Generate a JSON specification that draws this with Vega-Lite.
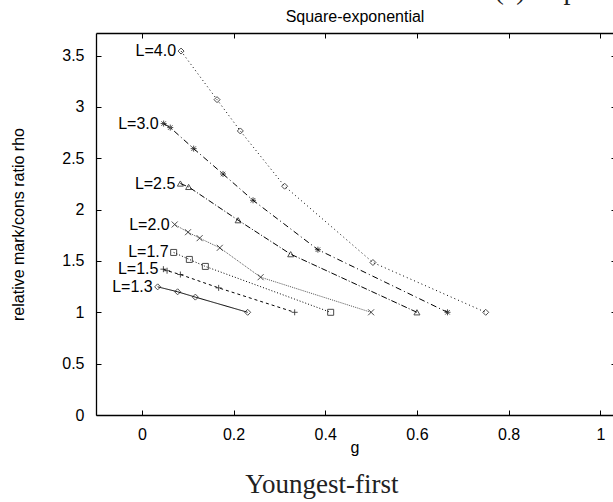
{
  "$schema": "https://vega.github.io/schema/vega-lite/v6.json",
  "width": 517,
  "height": 382,
  "autosize": {"type": "none"},
  "padding": {"left": 96, "top": 33, "right": 0, "bottom": 87},
  "background": "white",
  "config": {
    "view": {"stroke": null},
    "font": "Liberation Sans",
    "axis": {
      "grid": false,
      "domainColor": "black",
      "tickColor": "black",
      "labelColor": "black",
      "titleColor": "black",
      "labelFont": "Liberation Sans",
      "titleFont": "Liberation Sans",
      "labelFontSize": 16,
      "titleFontSize": 16,
      "titleFontWeight": "normal",
      "tickSize": -5,
      "domainWidth": 1.3,
      "tickWidth": 1
    }
  },
  "datasets": {
    "series": [
      {"L": "L=1.3", "g": 0.0345, "rho": 1.248},
      {"L": "L=1.3", "g": 0.078, "rho": 1.2},
      {"L": "L=1.3", "g": 0.1167, "rho": 1.148},
      {"L": "L=1.3", "g": 0.2308, "rho": 1.0},
      {"L": "L=1.5", "g": 0.047, "rho": 1.42},
      {"L": "L=1.5", "g": 0.055, "rho": 1.405},
      {"L": "L=1.5", "g": 0.084, "rho": 1.368},
      {"L": "L=1.5", "g": 0.1675, "rho": 1.238},
      {"L": "L=1.5", "g": 0.3333, "rho": 1.0},
      {"L": "L=1.7", "g": 0.0694, "rho": 1.583},
      {"L": "L=1.7", "g": 0.1036, "rho": 1.515},
      {"L": "L=1.7", "g": 0.1385, "rho": 1.447},
      {"L": "L=1.7", "g": 0.4118, "rho": 1.0},
      {"L": "L=2.0", "g": 0.0716, "rho": 1.855},
      {"L": "L=2.0", "g": 0.1007, "rho": 1.78},
      {"L": "L=2.0", "g": 0.126, "rho": 1.722},
      {"L": "L=2.0", "g": 0.17, "rho": 1.628},
      {"L": "L=2.0", "g": 0.259, "rho": 1.342},
      {"L": "L=2.0", "g": 0.5, "rho": 1.0},
      {"L": "L=2.5", "g": 0.084, "rho": 2.254},
      {"L": "L=2.5", "g": 0.102, "rho": 2.221},
      {"L": "L=2.5", "g": 0.21, "rho": 1.897},
      {"L": "L=2.5", "g": 0.3246, "rho": 1.566},
      {"L": "L=2.5", "g": 0.6, "rho": 1.0},
      {"L": "L=3.0", "g": 0.0475, "rho": 2.838},
      {"L": "L=3.0", "g": 0.062, "rho": 2.799},
      {"L": "L=3.0", "g": 0.113, "rho": 2.594},
      {"L": "L=3.0", "g": 0.177, "rho": 2.347},
      {"L": "L=3.0", "g": 0.2425, "rho": 2.091},
      {"L": "L=3.0", "g": 0.384, "rho": 1.61},
      {"L": "L=3.0", "g": 0.6667, "rho": 1.0},
      {"L": "L=4.0", "g": 0.0855, "rho": 3.544},
      {"L": "L=4.0", "g": 0.164, "rho": 3.071},
      {"L": "L=4.0", "g": 0.2148, "rho": 2.766},
      {"L": "L=4.0", "g": 0.3114, "rho": 2.228},
      {"L": "L=4.0", "g": 0.504, "rho": 1.485},
      {"L": "L=4.0", "g": 0.75, "rho": 1.0}
    ]
  },
  "layer": [
    {
      "data": {"name": "series"},
      "mark": {"type": "line", "strokeWidth": 1, "clip": true},
      "encoding": {
        "x": {
          "field": "g", "type": "quantitative",
          "scale": {"domain": [-0.1, 1.0276], "nice": false, "zero": false},
          "axis": {"orient": "bottom", "title": "g", "values": [0, 0.2, 0.4, 0.6, 0.8, 1], "format": "~g", "labelPadding": 16, "titlePadding": -3}
        },
        "y": {
          "field": "rho", "type": "quantitative",
          "scale": {"domain": [0, 3.72], "nice": false, "zero": false},
          "axis": {"orient": "left", "title": "relative mark/cons ratio rho", "values": [0, 0.5, 1, 1.5, 2, 2.5, 3, 3.5], "format": "~g", "labelPadding": 17, "titlePadding": 35}
        },
        "detail": {"field": "L"},
        "strokeDash": {
          "field": "L", "type": "nominal", "legend": null,
          "scale": {
            "domain": ["L=1.3", "L=1.5", "L=1.7", "L=2.0", "L=2.5", "L=3.0", "L=4.0"],
            "range": [[1, 0], [3, 3], [1, 2], [1, 1], [6, 2, 1, 2], [6, 3, 1, 3], [1, 3]]
          }
        },
        "color": {
          "field": "L", "type": "nominal", "legend": null,
          "scale": {
            "domain": ["L=1.3", "L=1.5", "L=1.7", "L=2.0", "L=2.5", "L=3.0", "L=4.0"],
            "range": ["#000000", "#000000", "#000000", "#555555", "#000000", "#000000", "#000000"]
          }
        }
      }
    },
    {
      "data": {"name": "series"},
      "mark": {"type": "point", "filled": false, "stroke": "black", "size": 36},
      "encoding": {
        "x": {
          "field": "g", "type": "quantitative",
          "scale": {"domain": [-0.1, 1.0276], "nice": false, "zero": false},
          "axis": {"orient": "top", "title": "Square-exponential", "labels": false, "values": [0, 0.2, 0.4, 0.6, 0.8, 1], "titlePadding": 8}
        },
        "y": {
          "field": "rho", "type": "quantitative",
          "scale": {"domain": [0, 3.72], "nice": false, "zero": false},
          "axis": {"orient": "right", "title": null, "labels": false, "domain": false, "tickSize": -2, "values": [0, 0.5, 1, 1.5, 2, 2.5, 3, 3.5]}
        },
        "shape": {
          "field": "L", "type": "nominal", "legend": null,
          "scale": {
            "domain": ["L=1.3", "L=1.5", "L=1.7", "L=2.0", "L=2.5", "L=3.0", "L=4.0"],
            "range": ["diamond", "M-1,0H1M0,-1V1", "square", "M-1,-1L1,1M-1,1L1,-1", "triangle-up", "M-1,0H1M0,-1V1M-0.75,-0.75L0.75,0.75M-0.75,0.75L0.75,-0.75", "diamond"]
          }
        },
        "strokeWidth": {
          "field": "L", "type": "nominal", "legend": null,
          "scale": {
            "domain": ["L=1.3", "L=1.5", "L=1.7", "L=2.0", "L=2.5", "L=3.0", "L=4.0"],
            "range": [1, 1, 1, 1, 1, 1.8, 1]
          }
        }
      }
    },
    {
      "data": {"name": "series"},
      "transform": [
        {"window": [{"op": "row_number", "as": "rk"}], "sort": [{"field": "g", "order": "ascending"}], "groupby": ["L"]},
        {"filter": "datum.rk === 1"}
      ],
      "mark": {"type": "text", "align": "right", "baseline": "middle", "dx": -5, "fontSize": 16, "font": "Liberation Sans", "color": "black"},
      "encoding": {
        "x": {"field": "g", "type": "quantitative", "scale": {"domain": [-0.1, 1.0276], "nice": false, "zero": false}, "axis": null},
        "y": {"field": "rho", "type": "quantitative", "scale": {"domain": [0, 3.72], "nice": false, "zero": false}, "axis": null},
        "text": {"field": "L"}
      }
    },
    {
      "data": {"values": [{"caption": "Youngest-first"}]},
      "mark": {"type": "text", "align": "center", "baseline": "alphabetic", "fontSize": 27, "font": "Liberation Serif", "color": "#222222"},
      "encoding": {
        "x": {"datum": 0.3926, "type": "quantitative", "scale": {"domain": [-0.1, 1.0276], "nice": false, "zero": false}, "axis": null},
        "y": {"datum": -0.7595, "type": "quantitative", "scale": {"domain": [0, 3.72], "nice": false, "zero": false}, "axis": null},
        "text": {"field": "caption"}
      }
    },
    {
      "data": {"values": [{"caption": "(a) Exponential"}]},
      "mark": {"type": "text", "align": "left", "baseline": "alphabetic", "fontSize": 28, "font": "Liberation Serif", "color": "#222222"},
      "encoding": {
        "x": {"datum": 0.769, "type": "quantitative", "scale": {"domain": [-0.1, 1.0276], "nice": false, "zero": false}, "axis": null},
        "y": {"datum": 4.05, "type": "quantitative", "scale": {"domain": [0, 3.72], "nice": false, "zero": false}, "axis": null},
        "text": {"field": "caption"}
      }
    }
  ],
  "resolve": {"axis": {"x": "independent", "y": "independent"}}
}
